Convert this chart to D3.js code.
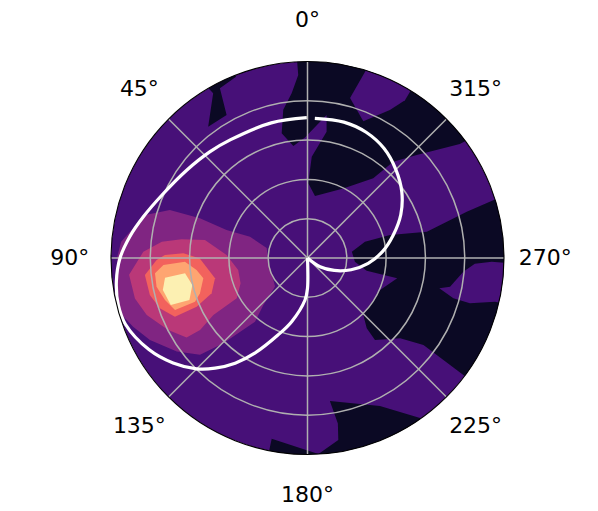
<!DOCTYPE html>
<html>
<head>
<meta charset="utf-8">
<script src="https://cdnjs.cloudflare.com/ajax/libs/d3/7.8.5/d3.min.js"></script>
<style>
  body { margin: 0; background: #fff; }
  text { font-family: "DejaVu Sans", sans-serif; }
</style>
</head>
<body>
<svg></svg>
<script>
var width = 598, height = 511;
var cx = 307.5, cy = 258, outer = 196.5;

var angleTicks = [0, 45, 90, 135, 180, 225, 270, 315];
var radiusTicks = [1, 2, 3, 4];
// where each band sits on the magma ramp
var bandLevels = [0.07, 0.23, 0.37, 0.51, 0.67, 0.81, 0.97];

// every outline is [theta in degrees, r]. r above 5 falls outside the clip
var lowNorth = [[3.1,5.3],[2.9,4.66],[5.5,4.21],[9.3,3.82],[11.7,3.24],[7.2,2.87],[1.2,3.07],[352.4,3.67],[351.4,3.25],[357.6,2.58],[359.4,1.90],[353.1,1.59],[332.8,1.99],[320.5,2.63],[318.3,3.28],[313.3,3.82],[306.8,4.84],[306,5.3],[330,5.3],[355,5.3]];
var lowNorthWest = [[21,5.3],[21.5,4.96],[27.3,4.86],[29.5,4.18],[37.1,4.19],[29.8,4.83],[31,5.3]];
var lowEast = [[287.6,5.3],[287.3,4.95],[286.2,4.22],[282.4,3.11],[285.6,2.18],[285.8,1.52],[278.1,1.14],[265.5,1.21],[257.9,1.54],[257.3,2.34],[246.2,2.02],[224.4,2.03],[220.1,2.34],[219.5,2.70],[229.1,3.12],[233.1,3.69],[233.1,4.96],[233.1,5.3],[260,5.3]];
var lowSouth = [[168.7,5.3],[168.8,4.69],[179.8,4.89],[183.2,4.995],[189.6,4.70],[190.4,4.28],[188.9,3.68],[206.1,4.19],[215.1,4.98],[215.1,5.3],[190,5.3]];
var islandNorthEast = [[342,5.3],[345.1,4.21],[337.8,3.76],[330.9,4.31],[328.3,4.72],[328.4,5.3]];
var islandEast = [[268.5,5.3],[268.8,4.69],[268,4.26],[265,3.98],[258.6,3.70],[257.1,3.44],[254.6,3.85],[254.4,4.29],[256.9,4.90],[256.9,5.3]];
var peakBand2 = [[70.8,3.71],[69.7,2.92],[70.9,2.18],[69.7,1.56],[76.2,1.07],[95.4,1.00],[131.4,1.10],[136.8,1.64],[140.5,2.10],[135.4,3.05],[132,3.68],[125.6,4.09],[117.5,4.52],[111.5,4.77],[107.1,4.94],[104.5,4.94],[96.6,4.90],[89.6,4.84],[85,4.76],[80.3,4.50],[75,4.24]];
var peakBand3 = [[87.8,4.18],[83.6,3.73],[81.5,3.24],[80,2.65],[87.9,2.06],[99.8,1.79],[110.7,1.82],[119.6,2.07],[121.2,2.80],[123.8,3.29],[123.3,3.68],[117.3,3.99],[109.5,4.34],[103.2,4.51],[95.4,4.56]];
var peakBand4 = [[88.8,3.63],[87.8,3.16],[90.2,2.74],[102.4,2.41],[110.2,2.60],[113.7,3.08],[113.9,3.69],[108.8,3.97],[103.2,4.12],[96,4.16],[90.8,3.84]];
var peakBand5 = [[92.8,3.67],[91.7,3.12],[96.2,2.84],[101,2.70],[108.2,2.88],[111.2,3.07],[111.4,3.62],[106.4,3.78],[100.8,3.91],[95.7,3.90]];
var peakBand6 = [[97.9,3.66],[97.1,3.14],[103.2,3.01],[109.6,3.19],[109,3.68],[102.5,3.77]];

// white curve, it has a small break just right of 0 degrees
var curveOut = [[225,0],[235,0.39],[245,0.75],[255,1.15],[265,1.55],[275,1.92],[285,2.26],[295,2.62],[305,2.93],[315,3.18],[325,3.40],[335,3.53],[345,3.58],[357,3.56]];
var curveBack = [[0.3,3.57],[15,3.56],[33,3.59],[42.5,3.67],[54,3.80],[66,4.02],[76,4.31],[83,4.55],[90,4.77],[97,4.90],[104,4.96],[110,4.93],[120,4.66],[128,4.34],[135,3.99],[140,3.66],[145.5,3.25],[151,2.77],[159,2.10],[166,1.67],[176.6,1.07],[180,0.77],[180.5,0]];

var svg = d3.select('svg')
   .attr('width', width)
   .attr('height', height)
   .style('display', 'block');

// theta runs counterclockwise from north
var theta = d3.scaleLinear().domain([0, 360]).range([0, -2 * Math.PI]);
var radius = d3.scaleLinear().domain([0, 5]).range([0, outer]);

var band = (i) => d3.interpolateMagma(bandLevels[i]);

var outline = d3.lineRadial()
   .angle((d) => theta(d[0]))
   .radius((d) => radius(d[1]))
   .curve(d3.curveLinearClosed);

var smooth = d3.lineRadial()
   .angle((d) => theta(d[0]))
   .radius((d) => radius(d[1]))
   .curve(d3.curveCatmullRom.alpha(0.5));

svg.append('clipPath')
   .attr('id', 'disk')
   .append('circle')
   .attr('r', radius(5));

var plot = svg.append('g')
   .attr('transform', 'translate(' + cx + ',' + cy + ')');

var fills = plot.append('g').attr('clip-path', 'url(#disk)');

fills.append('circle')
   .attr('r', radius(5))
   .attr('fill', band(1));

var regions = [
   [lowNorth, 0], [lowNorthWest, 0], [lowEast, 0], [lowSouth, 0],
   [islandNorthEast, 1], [islandEast, 1],
   [peakBand2, 2], [peakBand3, 3], [peakBand4, 4], [peakBand5, 5], [peakBand6, 6]
];

fills.selectAll('path')
   .data(regions)
   .enter()
   .append('path')
   .attr('d', (d) => outline(d[0]))
   .attr('fill', (d) => band(d[1]));

plot.selectAll('.ring')
   .data(radiusTicks)
   .enter()
   .append('circle')
   .attr('class', 'ring')
   .attr('r', (d) => radius(d))
   .attr('fill', 'none')
   .attr('stroke', '#b0b0b0')
   .attr('stroke-width', 1.5);

var spoke = (a) => [[a, 0], [a, 5]];

plot.selectAll('.spoke')
   .data(angleTicks)
   .enter()
   .append('path')
   .attr('class', 'spoke')
   .attr('d', (d) => d3.lineRadial()
      .angle((p) => theta(p[0]))
      .radius((p) => radius(p[1]))(spoke(d)))
   .attr('stroke', '#b0b0b0')
   .attr('stroke-width', 1.5);

plot.selectAll('.curve')
   .data([curveOut, curveBack])
   .enter()
   .append('path')
   .attr('class', 'curve')
   .attr('d', (d) => smooth(d))
   .attr('fill', 'none')
   .attr('stroke', '#fff')
   .attr('stroke-width', 3.2);

plot.append('circle')
   .attr('r', radius(5))
   .attr('fill', 'none')
   .attr('stroke', '#000')
   .attr('stroke-width', 1.1);

plot.selectAll('.angle')
   .data(angleTicks)
   .enter()
   .append('text')
   .attr('class', 'angle')
   .attr('x', (d) => Math.sin(theta(d)) * radius(6.05))
   .attr('y', (d) => -Math.cos(theta(d)) * radius(6.05) - 1)
   .attr('text-anchor', 'middle')
   .attr('dominant-baseline', 'central')
   .attr('font-size', 22)
   .attr('fill', '#000')
   .text((d) => d + '°');
</script>
</body>
</html>
